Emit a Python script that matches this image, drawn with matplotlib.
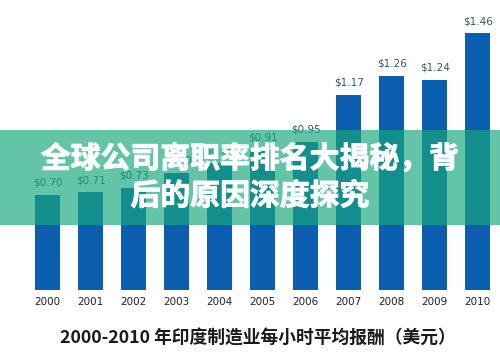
import matplotlib
matplotlib.use("Agg")
import matplotlib.pyplot as plt
import matplotlib.patheffects as pe
from matplotlib.patches import Rectangle

plt.rcParams['font.family'] = ['Noto Sans CJK SC', 'DejaVu Sans']

years = ["2000", "2001", "2002", "2003", "2004", "2005", "2006", "2007", "2008", "2009", "2010"]
pay = [0.70, 0.71, 0.73, 0.80, 0.85, 0.91, 0.95, 1.17, 1.26, 1.24, 1.46]
labels = ["$0.70", "$0.71", "$0.73", "$0.80", "$0.85", "$0.91", "$0.95", "$1.17", "$1.26", "$1.24", "$1.46"]
chart_title = "2000-2010 年印度制造业每小时平均报酬（美元）"
banner = "全球公司离职率排名大揭秘，背\n后的原因深度探究"

base = 0.25  # value axis does not start at zero in the original
BAR = "#0c5eae"

fig = plt.figure(figsize=(5, 3.57), dpi=100)
ax = fig.add_axes([0, 0, 1, 1])
ax.set_xlim(-1.105, 10.52)
ax.set_ylim(-0.066, 1.618)
ax.axis("off")

x = list(range(len(years)))
ax.bar(x, [v - base for v in pay], bottom=base, width=0.58, color=BAR, zorder=2)
for i, (v, lab, yr) in enumerate(zip(pay, labels, years)):
    ax.text(i, v + 0.035, lab, ha="center", va="bottom", fontsize=7.5,
            color="#34566a", family=["DejaVu Sans"])
    ax.text(i, base - 0.055, yr, ha="center", va="center", fontsize=7.5,
            color="#222222", family=["DejaVu Sans"])

ax.text(4.9, 0.02, chart_title, ha="center", va="center", fontsize=12.8,
        fontweight="bold", color="#1a1a1a")

# translucent green banner across the middle
fig.patches.append(Rectangle((0, 0.37), 1, 0.266, transform=fig.transFigure,
                             facecolor=(22/255, 167/255, 125/255), alpha=0.67,
                             edgecolor="none", zorder=5))
fig.text(0.5, 0.503, banner, ha="center", va="center", fontsize=21.5,
         fontweight="bold", color="white", linespacing=1.3, zorder=6,
         path_effects=[pe.withStroke(linewidth=0.7, foreground="white")])

fig.savefig("out.png", dpi=100, facecolor="white")
